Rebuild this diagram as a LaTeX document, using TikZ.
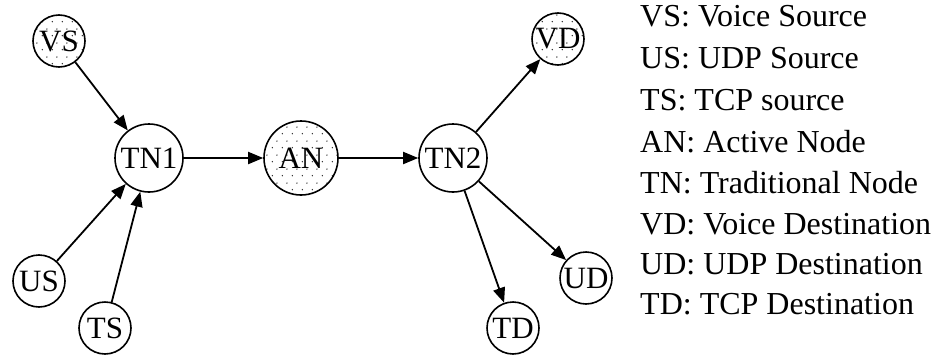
\documentclass[tikz,border=0pt]{standalone}
\usepackage{fontspec}
\setmainfont{Liberation Serif}
\usetikzlibrary{arrows.meta,patterns}

% sparse staggered dots used to shade the special nodes
\pgfdeclarepatternformonly{sparsedots}{\pgfpointorigin}{\pgfqpoint{10pt}{14pt}}{\pgfqpoint{10pt}{14pt}}{%
  \pgfpathcircle{\pgfqpoint{2.5pt}{3.5pt}}{0.8pt}%
  \pgfpathcircle{\pgfqpoint{7.5pt}{10.5pt}}{0.8pt}%
  \pgfusepath{fill}%
}

\tikzset{
  netnode/.style={circle, draw=black, line width=1.6pt, inner sep=0pt,
    font=\fontsize{31}{36}\selectfont},
  smallnode/.style={netnode, minimum size=52pt},
  bignode/.style={netnode, minimum size=68pt},
  shaded/.style={pattern=sparsedots, pattern color=black!85},
  link/.style={line width=1.8pt, -{Triangle[length=15pt,width=12pt]}},
  legend/.style={anchor=base west, inner sep=0pt, font=\fontsize{32}{38}\selectfont}
}

\begin{document}
\begin{tikzpicture}[x=1pt,y=-1pt]
  \useasboundingbox (0,0) rectangle (936,361);

  % network nodes
  \node[smallnode, shaded] (VS) at (59,41) {VS};
  \node[smallnode] (US) at (39,281) {US};
  \node[smallnode] (TS) at (105,328) {TS};
  \node[bignode] (TN1) at (149,158) {TN1};
  \node[bignode, shaded, minimum size=74pt] (AN) at (301,158) {AN};
  \node[bignode] (TN2) at (453,158) {TN2};
  \node[smallnode, shaded] (VD) at (558,39) {VD};
  \node[smallnode] (UD) at (586,278) {UD};
  \node[smallnode] (TD) at (513,328) {TD};

  % links
  \draw[link] (VS) -- (TN1);
  \draw[link] (US) -- (TN1);
  \draw[link] (TS) -- (TN1);
  \draw[link] (TN1) -- (AN);
  \draw[link] (AN) -- (TN2);
  \draw[link] (TN2) -- (VD);
  \draw[link] (TN2) -- (UD);
  \draw[link] (TN2) -- (TD);

  % abbreviations
  \node[legend] (l1) at (640,27)  {VS: Voice Source};
  \node[legend] (l2) at (640,68)  {US: UDP Source};
  \node[legend] (l3) at (640,110) {TS: TCP source};
  \node[legend] (l4) at (640,152) {AN: Active Node};
  \node[legend] (l5) at (640,193) {TN: Traditional Node};
  \node[legend] (l6) at (640,234) {VD: Voice Destination};
  \node[legend] (l7) at (640,274) {UD: UDP Destination};
  \node[legend] (l8) at (640,314) {TD: TCP Destination};
\end{tikzpicture}
\end{document}
